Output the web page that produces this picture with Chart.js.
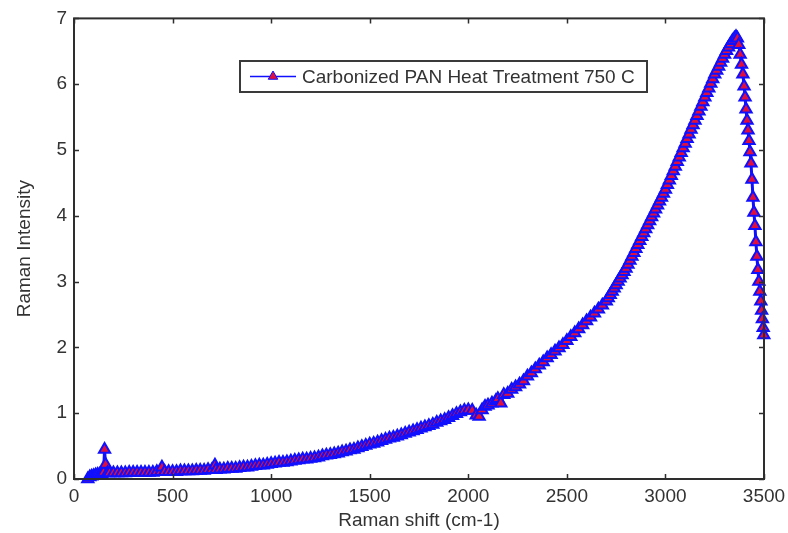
<!DOCTYPE html>
<html>
<head>
<meta charset="utf-8">
<script src="https://cdn.jsdelivr.net/npm/chart.js@4.4.1/dist/chart.umd.min.js"></script>
<style>
html,body{margin:0;padding:0;background:#fff;}
#wrap{width:788px;height:533px;}
</style>
</head>
<body>
<div id="wrap"><canvas id="c" width="788" height="533"></canvas></div>
<script>
const seriesLabel = 'Carbonized PAN Heat Treatment 750 C';
const xTitle = 'Raman shift (cm-1)';
const yTitle = 'Raman Intensity';
const xTicks = [0, 500, 1000, 1500, 2000, 2500, 3000, 3500];
const yTicks = [0, 1, 2, 3, 4, 5, 6, 7];

const ramanShift = [
  70, 80, 90, 100, 110, 120, 130, 140, 150, 155, 160, 170,
  180, 200, 220, 240, 260, 280, 300, 320, 340, 360, 380, 400, 420, 440, 446, 460, 480,
  500, 520, 540, 560, 580, 600, 620, 640, 660, 680, 700, 715, 720, 740, 760, 780,
  800, 820, 840, 860, 880, 900, 920, 940, 960, 980, 1000, 1020, 1040, 1060, 1080,
  1100, 1120, 1140, 1160, 1180, 1200, 1220, 1240, 1260, 1280, 1300, 1320, 1340, 1360, 1380,
  1400, 1420, 1440, 1460, 1480, 1500, 1520, 1540, 1560, 1580, 1600, 1620, 1640, 1660, 1680,
  1700, 1720, 1740, 1760, 1780, 1800, 1820, 1840, 1860, 1880, 1900, 1920, 1940, 1960, 1980,
  2000, 2020, 2040, 2055, 2070, 2085, 2100, 2120, 2140, 2150, 2165, 2180,
  2200, 2220, 2240, 2260, 2280, 2300, 2320, 2340, 2360, 2380, 2400, 2420, 2440, 2460, 2480,
  2500, 2520, 2540, 2560, 2580, 2600, 2620, 2640, 2660, 2680, 2700, 2710, 2720, 2730, 2740,
  2750, 2760, 2770, 2780, 2790, 2800, 2810, 2820, 2830, 2840, 2850, 2860, 2870, 2880, 2890,
  2900, 2910, 2920, 2930, 2940, 2950, 2960, 2970, 2980, 2990, 3000, 3010, 3020, 3030, 3040,
  3050, 3060, 3070, 3080, 3090, 3100, 3110, 3120, 3130, 3140, 3150, 3160, 3170, 3180, 3190,
  3200, 3210, 3220, 3230, 3240, 3250, 3260, 3270, 3280, 3290, 3300, 3310, 3320, 3330, 3340,
  3350, 3358, 3365, 3372, 3379, 3386, 3393, 3399, 3404, 3409, 3414, 3419, 3424, 3429, 3434,
  3439, 3444, 3449, 3454, 3459, 3464, 3469, 3474, 3479, 3484, 3488, 3492, 3496, 3499
];
const intensity = [
  0.00, 0.03, 0.04, 0.05, 0.06, 0.07, 0.07, 0.08, 0.10, 0.45, 0.22, 0.09,
  0.09, 0.09, 0.09, 0.09, 0.09, 0.10, 0.10, 0.10, 0.10, 0.10, 0.10, 0.10, 0.11, 0.11, 0.18, 0.11, 0.11,
  0.11, 0.11, 0.12, 0.12, 0.12, 0.12, 0.13, 0.13, 0.13, 0.14, 0.14, 0.21, 0.14, 0.15, 0.15, 0.16,
  0.16, 0.16, 0.17, 0.18, 0.18, 0.19, 0.20, 0.21, 0.21, 0.22, 0.23, 0.24, 0.25, 0.25, 0.26,
  0.27, 0.28, 0.29, 0.30, 0.30, 0.31, 0.32, 0.33, 0.35, 0.36, 0.37, 0.38, 0.39, 0.41, 0.42,
  0.44, 0.45, 0.47, 0.49, 0.51, 0.53, 0.54, 0.56, 0.58, 0.60, 0.62, 0.63, 0.65, 0.67, 0.69,
  0.71, 0.73, 0.75, 0.77, 0.79, 0.81, 0.83, 0.86, 0.88, 0.90, 0.93, 0.96, 0.99, 1.02, 1.04,
  1.05, 1.04, 0.97, 0.95, 1.05, 1.10, 1.12, 1.15, 1.19, 1.22, 1.15, 1.28,
  1.30, 1.36, 1.40, 1.44, 1.49, 1.56, 1.61, 1.67, 1.73, 1.78, 1.84, 1.89, 1.94, 1.99, 2.04,
  2.10, 2.16, 2.22, 2.28, 2.34, 2.40, 2.46, 2.52, 2.58, 2.64, 2.70, 2.75, 2.80, 2.85, 2.90,
  2.95, 3.00, 3.05, 3.10, 3.15, 3.20, 3.26, 3.32, 3.38, 3.44, 3.50, 3.56, 3.62, 3.68, 3.74,
  3.80, 3.86, 3.92, 3.98, 4.04, 4.10, 4.16, 4.22, 4.28, 4.34, 4.40, 4.47, 4.54, 4.61, 4.68,
  4.75, 4.82, 4.89, 4.96, 5.03, 5.10, 5.17, 5.24, 5.31, 5.38, 5.45, 5.52, 5.59, 5.66, 5.73,
  5.80, 5.87, 5.94, 6.01, 6.08, 6.15, 6.21, 6.27, 6.33, 6.39, 6.45, 6.51, 6.56, 6.61, 6.66,
  6.70, 6.72, 6.70, 6.60, 6.45, 6.30, 6.15, 5.97, 5.80, 5.62, 5.45, 5.30, 5.14, 4.97, 4.80,
  4.55, 4.28, 4.05, 3.85, 3.60, 3.38, 3.18, 3.00, 2.85, 2.70, 2.56, 2.43, 2.30, 2.19
];

const TEXT = '#333333';
const AXIS = '#2e2e2e';
const LINE_BLUE = '#1010ff';
const MARK_RED = '#e0103a';
const FONT = {family: 'Arial, "Liberation Sans", sans-serif', size: 19};

const points = ramanShift.map((x, i) => ({x: x, y: intensity[i]}));

const boxPlugin = {
  id: 'matlabBox',
  afterDatasetsDraw(chart) {
    const {ctx, chartArea: a, scales} = chart;
    ctx.save();
    ctx.strokeStyle = AXIS;
    ctx.lineWidth = 1.5;
    ctx.beginPath();
    xTicks.forEach(v => {
      const px = Math.round(scales.x.getPixelForValue(v)) + 0.5;
      ctx.moveTo(px, a.bottom); ctx.lineTo(px, a.bottom - 5);
      ctx.moveTo(px, a.top); ctx.lineTo(px, a.top + 5);
    });
    yTicks.forEach(v => {
      const py = Math.round(scales.y.getPixelForValue(v)) + 0.5;
      ctx.moveTo(a.left, py); ctx.lineTo(a.left + 5, py);
      ctx.moveTo(a.right, py); ctx.lineTo(a.right - 5, py);
    });
    ctx.stroke();
    ctx.lineWidth = 2;
    ctx.strokeRect(a.left, a.top, a.right - a.left, a.bottom - a.top);

    // legend box
    const lx = 240, ly = 61, lw = 407, lh = 31;
    ctx.fillStyle = '#ffffff';
    ctx.fillRect(lx, ly, lw, lh);
    ctx.lineWidth = 2;
    ctx.strokeStyle = '#3a3a3a';
    ctx.strokeRect(lx, ly, lw, lh);
    const cy = ly + lh / 2;
    ctx.strokeStyle = LINE_BLUE;
    ctx.lineWidth = 1.5;
    ctx.beginPath();
    ctx.moveTo(250, cy); ctx.lineTo(296, cy);
    ctx.stroke();
    const r = 5.5, cx = 273;
    ctx.beginPath();
    ctx.moveTo(cx, cy - r);
    ctx.lineTo(cx + r * 0.866, cy + r * 0.5);
    ctx.lineTo(cx - r * 0.866, cy + r * 0.5);
    ctx.closePath();
    ctx.fillStyle = MARK_RED;
    ctx.fill();
    ctx.strokeStyle = LINE_BLUE;
    ctx.lineWidth = 1;
    ctx.stroke();
    ctx.fillStyle = TEXT;
    ctx.font = '19px Arial, "Liberation Sans", sans-serif';
    ctx.textBaseline = 'middle';
    ctx.textAlign = 'left';
    ctx.fillText(seriesLabel, 302, cy + 1);
    ctx.restore();
  }
};

new Chart(document.getElementById('c'), {
  type: 'line',
  data: {
    datasets: [{
      label: seriesLabel,
      data: points,
      borderColor: LINE_BLUE,
      borderWidth: 3,
      backgroundColor: MARK_RED,
      pointStyle: 'triangle',
      pointRadius: 6.5,
      pointBackgroundColor: MARK_RED,
      pointBorderColor: LINE_BLUE,
      pointBorderWidth: 2,
      tension: 0,
      clip: false
    }]
  },
  options: {
    responsive: false,
    animation: false,
    events: [],
    layout: {padding: {left: 0, top: 17, right: 24, bottom: 0}},
    plugins: {legend: {display: false}, tooltip: {enabled: false}},
    scales: {
      x: {
        type: 'linear', min: 0, max: 3500,
        afterBuildTicks: s => { s.ticks = xTicks.map(v => ({value: v})); },
        afterFit: s => { s.height = 54; s.paddingLeft = 0; s.paddingRight = 0; },
        grid: {display: false, drawTicks: false},
        border: {display: false},
        ticks: {color: TEXT, font: FONT, padding: 6, maxRotation: 0, autoSkip: false,
                callback: v => String(v)},
        title: {display: true, text: xTitle, color: TEXT, font: FONT, padding: {top: 0, bottom: 1}}
      },
      y: {
        type: 'linear', min: 0, max: 7,
        afterBuildTicks: s => { s.ticks = yTicks.map(v => ({value: v})); },
        afterFit: s => { s.width = 74; },
        grid: {display: false, drawTicks: false},
        border: {display: false},
        ticks: {color: TEXT, font: FONT, padding: 7, callback: v => String(v)},
        title: {display: true, text: yTitle, color: TEXT, font: FONT, padding: {top: 13, bottom: 0}}
      }
    }
  },
  plugins: [boxPlugin]
});
</script>
</body>
</html>
